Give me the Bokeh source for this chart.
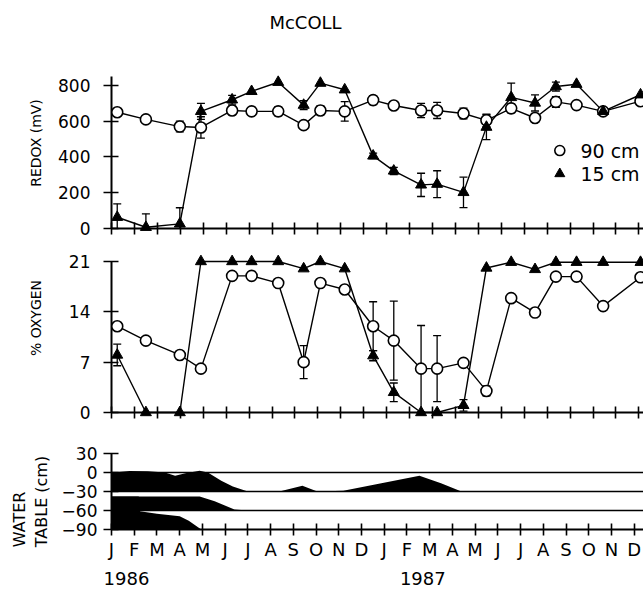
import math
from bokeh.plotting import figure
from bokeh.layouts import column
from bokeh.models import (FixedTicker, Whisker, TeeHead, ColumnDataSource,
                          Span, Range1d)
from bokeh.embed import file_html
from bokeh.resources import INLINE
from bokeh.core.properties import value

FONT = "DejaVu Sans"

# ---------------- data ----------------
month_letters = ["J", "F", "M", "A", "M", "J", "J", "A", "S", "O", "N", "D"] * 2
month_ticks = list(range(24))          # month index, Jan 1986 = 0
years = ["1986", "1987"]

# sampling dates (months since 1 Jan 1986)
sample_month = [0.25, 1.5, 2.98, 3.9, 5.26, 6.11, 7.27, 8.38, 9.11, 10.17, 11.41,
                12.31, 13.5, 14.2, 15.35, 16.35, 17.43, 18.47, 19.38, 20.28, 21.44, 23.07]

redox_90 = [650, 610, 570, 565, 660, 655, 655, 578, 660, 655, 718,
            688, 660, 660, 643, 605, 672, 618, 708, 690, 655, 712]
redox_90_err = [0, 0, 30, 60, 25, 15, 25, 0, 25, 55, 25,
                0, 40, 45, 30, 35, 25, 25, 30, 0, 0, 0]
redox_15 = [63, 7, 26, 655, 720, 767, 818, 690, 813, 776, 406,
            322, 244, 248, 202, 567, 733, 702, 794, 807, 655, 748]
redox_15_err = [75, 75, 90, 45, 25, 0, 0, 25, 0, 0, 15,
                20, 65, 75, 85, 70, 80, 45, 25, 0, 0, 0]

oxygen_90 = [12, 10, 8, 6.1, 19, 19, 18, 7, 18, 17.1, 12,
             10, 6.1, 6.1, 6.9, 3.0, 15.9, 13.9, 18.9, 18.9, 14.8, 18.8]
oxygen_90_err = [0, 0, 0, 0, 0, 0, 0, 2.3, 0, 0, 3.4,
                 5.5, 6, 4.6, 0, 0.7, 0, 0, 0, 0, 0, 0]
oxygen_15 = [8, 0, 0, 21, 21, 21, 21, 20, 21, 20, 7.9,
             2.8, 0, 0, 1, 20.1, 20.9, 19.9, 20.9, 20.9, 20.9, 20.9]
oxygen_15_err = [1.5, 0, 0, 0, 0, 0, 0, 0, 0, 0, 0.7,
                 1.3, 0, 0, 0.8, 0, 0, 0, 0, 0, 0, 0]

redox_ticks = [0, 200, 400, 600, 800]
oxygen_ticks = [0, 7, 14, 21]
wt_ticks = [30, 0, -30, -60, -90]
wt_tick_labels = ["30", "0", "\u221230", "\u221260", "\u221290"]

# water table strips (cm)
wt_upper_month = [0, 0.8, 1.6, 2.35, 2.8, 3.25, 3.88, 4.24, 4.83, 5.34, 6.0,
                  7.38, 8.4, 9.06, 10.2, 13.55, 14.5, 15.4, 23.4]
wt_upper_level = [0, 2.5, 2, 0, -5, -1, 2.6, 0, -13, -22, -30,
                  -30, -21, -30, -29, -5, -17, -30, -30]
wt_mid_month = [0, 3.88, 4.54, 5.41, 6.0, 23.4]
wt_mid_level = [-37.7, -37.7, -45.5, -58.6, -60, -60]
wt_low_month = [0, 1.2, 1.25, 2.0, 3.0, 3.4, 3.95, 23.4]
wt_low_level = [-37.7, -37.7, -61, -65, -69, -76, -90, -90]
strip_floors = [-30, -60, -90]
strip_lines = [0, -30, -60]

legend_labels = ["90 cm", "15 cm"]


# ---------------- helpers ----------------
def base_fig(height, x_end, y_range, left, top, bottom):
    p = figure(width=643, height=height, x_range=Range1d(0, x_end), y_range=y_range,
               output_backend="svg", toolbar_location=None,
               min_border_left=left, min_border_right=0,
               min_border_top=top, min_border_bottom=bottom)
    p.title.visible = False
    p.xgrid.visible = False
    p.ygrid.visible = False
    p.outline_line_color = None
    p.background_fill_color = "white"
    p.border_fill_color = "white"
    for ax in (p.xaxis[0], p.yaxis[0]):
        ax.axis_line_width = 2
        ax.axis_line_color = "black"
        ax.major_tick_line_width = 1.6
        ax.major_tick_line_color = "black"
        ax.minor_tick_line_color = None
        ax.major_label_text_font = FONT
        ax.major_label_text_color = "black"
    p.xaxis.ticker = FixedTicker(ticks=month_ticks)
    p.xaxis.major_tick_in = 6
    p.xaxis.major_tick_out = 6
    p.yaxis.major_tick_in = 7
    p.yaxis.major_tick_out = 8
    p.yaxis.major_label_text_font_size = "17px"
    return p


def hide_x_labels(p):
    p.xaxis.major_label_overrides = {t: "" for t in month_ticks}
    p.xaxis.major_label_standoff = 0
    p.xaxis.major_label_text_font_size = "8px"


def add_errors(p, x, y, err):
    xs = [a for a, e in zip(x, err) if e > 0]
    up = [b + e for b, e in zip(y, err) if e > 0]
    lo = [b - e for b, e in zip(y, err) if e > 0]
    src = ColumnDataSource(dict(base=xs, upper=up, lower=lo))
    w = Whisker(source=src, base="base", upper="upper", lower="lower",
                line_color="black", line_width=1.3,
                upper_head=TeeHead(size=8, line_color="black", line_width=1.3),
                lower_head=TeeHead(size=8, line_color="black", line_width=1.3))
    p.add_layout(w)


def add_series(p, y90, e90, y15, e15):
    add_errors(p, sample_month, y90, e90)
    add_errors(p, sample_month, y15, e15)
    p.line(sample_month, y90, line_color="black", line_width=1.4, level="overlay")
    p.line(sample_month, y15, line_color="black", line_width=1.4, level="overlay")
    p.scatter(sample_month, y90, marker="circle", size=11, fill_color="white",
              line_color="black", line_width=1.6, level="overlay")
    p.scatter(sample_month, y15, marker="triangle", size=11, fill_color="black",
              line_color="black", line_width=1, level="overlay")


def free_text(p, x, y, text, size, angle=0.0, align="center"):
    p.text([x], [y], text=[text], angle=angle, text_align=align,
           text_baseline="middle", text_font=value(FONT), text_font_size=size,
           text_color="black", level="overlay")


# ---------------- top: redox ----------------
p1 = base_fig(244, 23.2, Range1d(0, 850), 111, 76, 16)
p1.yaxis.ticker = FixedTicker(ticks=redox_ticks)
p1.yaxis.major_label_standoff = 13
hide_x_labels(p1)
add_series(p1, redox_90, redox_90_err, redox_15, redox_15_err)
free_text(p1, -3.31, 478, "REDOX (mV)", "14px", angle=math.pi / 2)
free_text(p1, 8.46, 1152, "McCOLL", "18px")
# legend
p1.scatter([19.55], [436], marker="circle", size=10, fill_color="white",
           line_color="black", line_width=1.6, level="overlay")
p1.scatter([19.55], [306], marker="triangle", size=10, fill_color="black",
           line_color="black", level="overlay")
p1.text([20.45, 20.45], [436, 306], text=legend_labels, text_font=value(FONT),
        text_font_size="19px", text_baseline="middle", text_align="left",
        text_color="black", level="overlay")

# ---------------- middle: oxygen ----------------
p2 = base_fig(186, 23.2, Range1d(0, 21), 111, 17, 18)
p2.yaxis.ticker = FixedTicker(ticks=oxygen_ticks)
p2.yaxis.major_label_standoff = 13
hide_x_labels(p2)
add_series(p2, oxygen_90, oxygen_90_err, oxygen_15, oxygen_15_err)
free_text(p2, -3.31, 13.14, "% OXYGEN", "14px", angle=math.pi / 2)

# ---------------- bottom: water table ----------------
p3 = base_fig(162, 23.41, Range1d(-90, 30), 108, 23, 63)
p3.yaxis.ticker = FixedTicker(ticks=wt_ticks)
p3.yaxis.major_label_overrides = {t: s for t, s in zip(wt_ticks, wt_tick_labels)}
p3.yaxis.major_label_standoff = 6
p3.xaxis.major_label_overrides = {t: s for t, s in zip(month_ticks, month_letters)}
p3.xaxis.major_label_text_font_size = "18px"
p3.xaxis.major_label_standoff = 3

for xs, ys, floor in zip([wt_upper_month, wt_mid_month, wt_low_month],
                         [wt_upper_level, wt_mid_level, wt_low_level], strip_floors):
    p3.varea(x=xs, y1=ys, y2=floor, fill_color="black")
for loc in strip_lines:
    p3.add_layout(Span(location=loc, dimension="width", line_color="black", line_width=1.6))

free_text(p3, -4.05, -118, "WATER", "16px", angle=math.pi / 2, align="left")
free_text(p3, -3.09, -118, "TABLE (cm)", "16px", angle=math.pi / 2, align="left")
for yr, xpos in zip(years, [-0.35, 12.69]):
    free_text(p3, xpos, -167, yr, "18px", align="left")

layout = column(p1, p2, p3, spacing=0)
open("out.html", "w").write(file_html(layout, INLINE))
